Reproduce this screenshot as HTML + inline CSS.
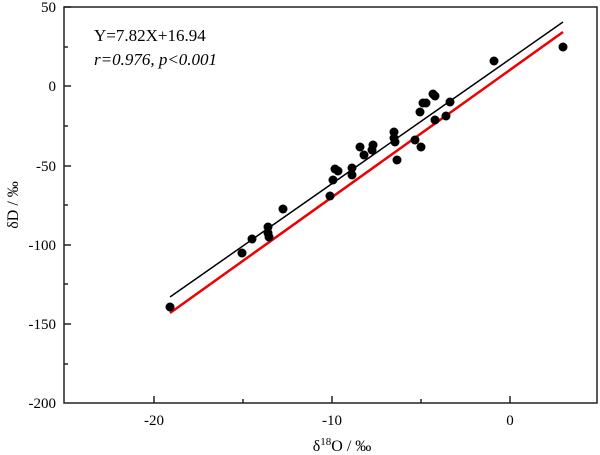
<!DOCTYPE html>
<html><head><style>body{margin:0;background:#fff}svg{display:block}text{font-family:"Liberation Serif",serif}</style></head><body>
<svg width="600" height="455" xmlns="http://www.w3.org/2000/svg" font-size="15">
<rect x="64" y="7" width="533" height="396" fill="none" stroke="#222" stroke-width="1.5"/>
<g stroke="#222" stroke-width="1.5">
<line x1="154" y1="403" x2="154" y2="396"/><line x1="243" y1="403" x2="243" y2="399"/>
<line x1="332" y1="403" x2="332" y2="396"/><line x1="421" y1="403" x2="421" y2="399"/>
<line x1="510" y1="403" x2="510" y2="396"/>
<line x1="64" y1="7" x2="71" y2="7"/><line x1="64" y1="47" x2="68" y2="47"/>
<line x1="64" y1="86" x2="71" y2="86"/><line x1="64" y1="126" x2="68" y2="126"/>
<line x1="64" y1="166" x2="71" y2="166"/><line x1="64" y1="205" x2="68" y2="205"/>
<line x1="64" y1="245" x2="71" y2="245"/><line x1="64" y1="284" x2="68" y2="284"/>
<line x1="64" y1="324" x2="71" y2="324"/><line x1="64" y1="364" x2="68" y2="364"/>
</g>
<g text-anchor="end">
<text x="56" y="12">50</text><text x="56" y="91">0</text><text x="56" y="171">-50</text>
<text x="56" y="250">-100</text><text x="56" y="329">-150</text><text x="56" y="408">-200</text>
</g>
<g text-anchor="middle">
<text x="154" y="425">-20</text><text x="332" y="425">-10</text><text x="510" y="425">0</text>
<text x="342" y="451" font-size="16">δ<tspan dy="-6" font-size="11">18</tspan><tspan dy="6">O / ‰</tspan></text>
</g>
<text transform="translate(18,205) rotate(-90)" text-anchor="middle" font-size="16">δD / ‰</text>
<text x="94" y="41" font-size="17">Y=7.82X+16.94</text>
<text x="94" y="65" font-size="17" font-style="italic">r=0.976, p&lt;0.001</text>
<line x1="170" y1="297" x2="563" y2="22" stroke="#000" stroke-width="1.5"/>
<line x1="170" y1="313" x2="563" y2="32" stroke="#e00" stroke-width="2.5"/>
<g fill="#000">
<circle cx="170" cy="307" r="4.5"/><circle cx="242" cy="253" r="4.5"/><circle cx="252" cy="239" r="4.5"/>
<circle cx="268" cy="233" r="4.5"/><circle cx="268" cy="227" r="4.5"/><circle cx="269" cy="237" r="4.5"/>
<circle cx="283" cy="209" r="4.5"/><circle cx="330" cy="196" r="4.5"/><circle cx="333" cy="180" r="4.5"/>
<circle cx="335" cy="169" r="4.5"/><circle cx="338" cy="171" r="4.5"/><circle cx="352" cy="168" r="4.5"/>
<circle cx="352" cy="175" r="4.5"/><circle cx="360" cy="147" r="4.5"/><circle cx="364" cy="155" r="4.5"/>
<circle cx="372" cy="150" r="4.5"/><circle cx="373" cy="145" r="4.5"/><circle cx="394" cy="132" r="4.5"/>
<circle cx="395" cy="142" r="4.5"/><circle cx="394" cy="138" r="4.5"/><circle cx="397" cy="160" r="4.5"/>
<circle cx="415" cy="140" r="4.5"/><circle cx="421" cy="147" r="4.5"/><circle cx="420" cy="112" r="4.5"/>
<circle cx="423" cy="103" r="4.5"/><circle cx="426" cy="103" r="4.5"/><circle cx="433" cy="94" r="4.5"/>
<circle cx="435" cy="96" r="4.5"/><circle cx="435" cy="120" r="4.5"/><circle cx="446" cy="116" r="4.5"/>
<circle cx="450" cy="102" r="4.5"/><circle cx="494" cy="61" r="4.5"/><circle cx="563" cy="47" r="4.5"/>
</g>
</svg>
</body></html>
